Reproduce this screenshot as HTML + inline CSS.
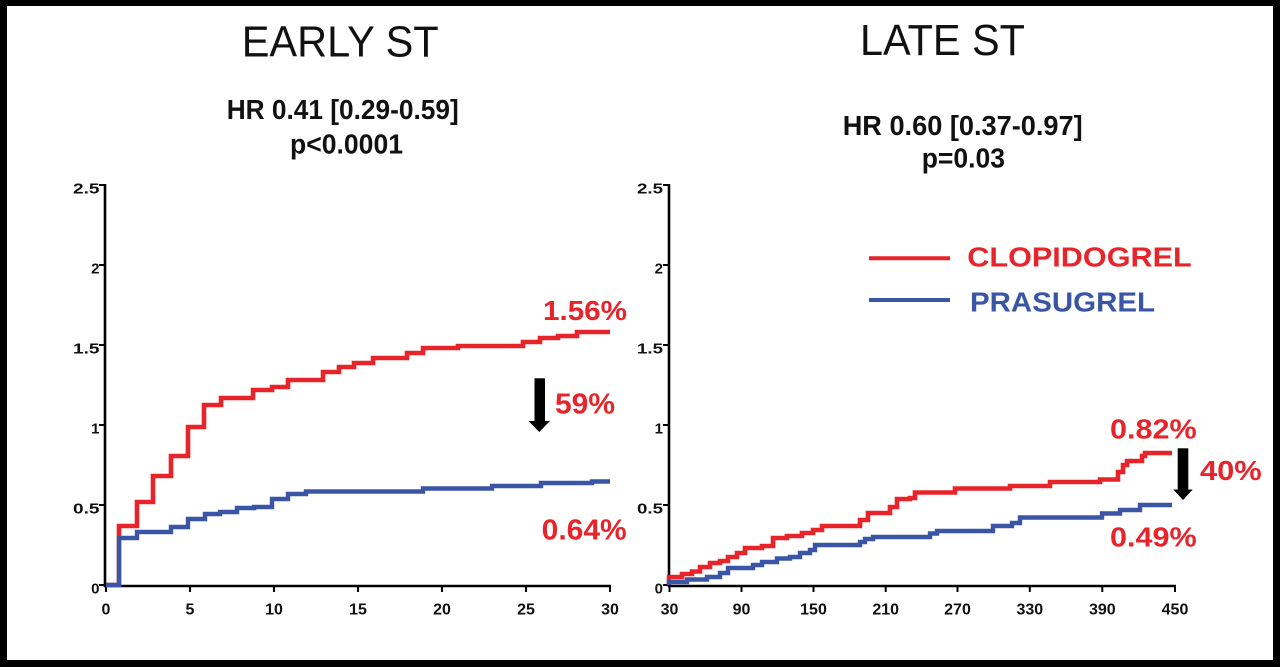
<!DOCTYPE html>
<html>
<head>
<meta charset="utf-8">
<style>
  html, body { margin: 0; padding: 0; background: #000; }
  body { width: 1280px; height: 667px; overflow: hidden; }
  svg { display: block; }
  text { font-family: "Liberation Sans", Arial, sans-serif; }
</style>
</head>
<body>
<svg width="1280" height="667" viewBox="0 0 1280 667" xmlns="http://www.w3.org/2000/svg">
  <rect x="0" y="0" width="1280" height="667" fill="#000"/>
  <rect x="7" y="6" width="1266" height="654" fill="#fff"/>

  <!-- Titles -->
  <text x="241.7" y="56.7" font-size="44" fill="#111" textLength="197" lengthAdjust="spacingAndGlyphs">EARLY ST</text>
  <text x="860" y="55" font-size="44" fill="#111" textLength="165" lengthAdjust="spacingAndGlyphs">LATE ST</text>

  <text x="226.7" y="119" font-size="28" font-weight="bold" fill="#111" textLength="232" lengthAdjust="spacingAndGlyphs">HR 0.41 [0.29-0.59]</text>
  <text x="290" y="153.5" font-size="28" font-weight="bold" fill="#111" textLength="113" lengthAdjust="spacingAndGlyphs">p&lt;0.0001</text>

  <text x="842.7" y="135" font-size="28" font-weight="bold" fill="#111" textLength="240" lengthAdjust="spacingAndGlyphs">HR 0.60 [0.37-0.97]</text>
  <text x="921.7" y="167.7" font-size="28" font-weight="bold" fill="#111" textLength="83.3" lengthAdjust="spacingAndGlyphs">p=0.03</text>

  <!-- LEFT CHART axes -->
  <g stroke="#000" fill="none">
    <line x1="105" y1="184" x2="105" y2="587" stroke-width="2.6"/>
    <line x1="104" y1="586" x2="611" y2="586" stroke-width="2.6"/>
    <g stroke-width="2">
      <line x1="99" y1="185" x2="105" y2="185"/>
      <line x1="99" y1="265" x2="105" y2="265"/>
      <line x1="99" y1="345" x2="105" y2="345"/>
      <line x1="99" y1="425" x2="105" y2="425"/>
      <line x1="99" y1="505" x2="105" y2="505"/>
      <line x1="99" y1="585" x2="105" y2="585"/>
      <line x1="106" y1="586" x2="106" y2="592"/>
      <line x1="190" y1="586" x2="190" y2="592"/>
      <line x1="274" y1="586" x2="274" y2="592"/>
      <line x1="358" y1="586" x2="358" y2="592"/>
      <line x1="442" y1="586" x2="442" y2="592"/>
      <line x1="526" y1="586" x2="526" y2="592"/>
      <line x1="610" y1="586" x2="610" y2="592"/>
    </g>
  </g>
  <g font-size="15" font-weight="bold" fill="#111" text-anchor="end">
    <text x="99.5" y="193.5" textLength="26.5" lengthAdjust="spacingAndGlyphs">2.5</text>
    <text x="99.5" y="273.5">2</text>
    <text x="99.5" y="353.5" textLength="26.5" lengthAdjust="spacingAndGlyphs">1.5</text>
    <text x="99.5" y="433.5">1</text>
    <text x="99.5" y="513.5" textLength="26.5" lengthAdjust="spacingAndGlyphs">0.5</text>
    <text x="99.5" y="593.5">0</text>
  </g>
  <g font-size="16" font-weight="bold" fill="#111" text-anchor="middle">
    <text x="106" y="614.3">0</text>
    <text x="190" y="614.3">5</text>
    <text x="274" y="614.3">10</text>
    <text x="358" y="614.3">15</text>
    <text x="442" y="614.3">20</text>
    <text x="526" y="614.3">25</text>
    <text x="610" y="614.3">30</text>
  </g>

  <!-- LEFT CHART curves -->
  <path d="M106,585 H119 V526 H137 V502 H153 V476 H171 V456 H188 V427 H204 V405 H221 V398 H253 V390 H272 V387 H288 V380 H323 V372 H339 V367 H354 V363 H373 V358 H407 V353 H423 V348 H458 V346 H523 V342 H540 V338 H558 V336 H577 V332 H610"
        fill="none" stroke="#e8242b" stroke-width="4.6" stroke-linejoin="miter"/>
  <path d="M106,585 H119 V538 H137 V532 H171 V527 H188 V519 H205 V514 H220 V512 H237 V508 H254 V507 H272 V499 H288 V494 H306 V491.5 H423 V488.5 H492 V486 H541 V483 H592 V481.5 H610"
        fill="none" stroke="#3a55a6" stroke-width="4.4" stroke-linejoin="miter"/>

  <!-- LEFT annotations -->
  <text x="543" y="320" font-size="28" font-weight="bold" fill="#e8242b" textLength="84" lengthAdjust="spacingAndGlyphs">1.56%</text>
  <text x="555" y="413.3" font-size="29" font-weight="bold" fill="#e8242b" textLength="60" lengthAdjust="spacingAndGlyphs">59%</text>
  <text x="541.7" y="539.3" font-size="29" font-weight="bold" fill="#e8242b" textLength="85" lengthAdjust="spacingAndGlyphs">0.64%</text>
  <rect x="534.5" y="378.3" width="10.5" height="45" fill="#000"/>
  <polygon points="528.5,421 550,421 539.3,432" fill="#000"/>

  <!-- RIGHT CHART axes -->
  <g stroke="#000" fill="none">
    <line x1="669" y1="184" x2="669" y2="587" stroke-width="2.6"/>
    <line x1="668" y1="586" x2="1176" y2="586" stroke-width="2.6"/>
    <g stroke-width="2">
      <line x1="663" y1="185" x2="669" y2="185"/>
      <line x1="663" y1="265" x2="669" y2="265"/>
      <line x1="663" y1="345" x2="669" y2="345"/>
      <line x1="663" y1="425" x2="669" y2="425"/>
      <line x1="663" y1="505" x2="669" y2="505"/>
      <line x1="663" y1="585" x2="669" y2="585"/>
      <line x1="669.5" y1="586" x2="669.5" y2="592"/>
      <line x1="741.5" y1="586" x2="741.5" y2="592"/>
      <line x1="813.5" y1="586" x2="813.5" y2="592"/>
      <line x1="885.7" y1="586" x2="885.7" y2="592"/>
      <line x1="957.5" y1="586" x2="957.5" y2="592"/>
      <line x1="1029.8" y1="586" x2="1029.8" y2="592"/>
      <line x1="1102.3" y1="586" x2="1102.3" y2="592"/>
      <line x1="1175" y1="586" x2="1175" y2="592"/>
    </g>
  </g>
  <g font-size="15" font-weight="bold" fill="#111" text-anchor="end">
    <text x="663" y="193.5" textLength="26" lengthAdjust="spacingAndGlyphs">2.5</text>
    <text x="663" y="273.5">2</text>
    <text x="663" y="353.5" textLength="26" lengthAdjust="spacingAndGlyphs">1.5</text>
    <text x="663" y="433.5">1</text>
    <text x="663" y="513.5" textLength="26" lengthAdjust="spacingAndGlyphs">0.5</text>
    <text x="663" y="593.5">0</text>
  </g>
  <g font-size="16" font-weight="bold" fill="#111" text-anchor="middle">
    <text x="669.5" y="614.3">30</text>
    <text x="741.5" y="614.3">90</text>
    <text x="813.5" y="614.3">150</text>
    <text x="885.7" y="614.3">210</text>
    <text x="957.5" y="614.3">270</text>
    <text x="1029.8" y="614.3">330</text>
    <text x="1102.3" y="614.3">390</text>
    <text x="1175" y="614.3">450</text>
  </g>

  <!-- RIGHT CHART curves -->
  <path d="M669,585 V577 H682 V574 H692 V571.5 H700 V567 H710 V563 H720 V561 H728 V557 H737 V553 H745 V548 H762 V546 H773 V538 H787 V536 H802 V533 H813 V530 H822 V526 H860 V520 H868 V513 H890 V507 H897 V499 H910 V498 H915 V492.5 H955 V488.5 H1010 V486 H1050 V482 H1100 V479.5 H1118 V472 H1123 V465 H1127 V461 H1142 V456 H1145 V453 H1172"
        fill="none" stroke="#e8242b" stroke-width="4.6" stroke-linejoin="miter"/>
  <path d="M669,585 V582 H687 V579.5 H707 V577 H720 V573 H728 V568 H753 V565 H762 V562 H777 V558.5 H790 V557 H800 V553 H810 V550 H815 V545 H860 V542 H865 V539 H873 V537 H930 V533.5 H937 V531 H993 V526 H1012 V523 H1020 V517.5 H1102 V513.5 H1120 V510 H1140 V505 H1172"
        fill="none" stroke="#3a55a6" stroke-width="4.4" stroke-linejoin="miter"/>

  <!-- RIGHT annotations -->
  <text x="1110" y="438.3" font-size="28" font-weight="bold" fill="#e8242b" textLength="86.7" lengthAdjust="spacingAndGlyphs">0.82%</text>
  <text x="1200" y="480" font-size="28" font-weight="bold" fill="#e8242b" textLength="61.7" lengthAdjust="spacingAndGlyphs">40%</text>
  <text x="1110" y="546.7" font-size="28" font-weight="bold" fill="#e8242b" textLength="86.7" lengthAdjust="spacingAndGlyphs">0.49%</text>
  <rect x="1177.7" y="448.3" width="10.6" height="43" fill="#000"/>
  <polygon points="1173.3,489.5 1192.7,489.5 1183,500" fill="#000"/>

  <!-- Legend -->
  <line x1="869" y1="258.3" x2="950" y2="258.3" stroke="#e8242b" stroke-width="4"/>
  <text x="967.3" y="266.7" font-size="28" font-weight="bold" fill="#e8242b" textLength="224.4" lengthAdjust="spacingAndGlyphs">CLOPIDOGREL</text>
  <line x1="869" y1="300" x2="950" y2="300" stroke="#3a55a6" stroke-width="4"/>
  <text x="970" y="311.7" font-size="28" font-weight="bold" fill="#3a55a6" textLength="185" lengthAdjust="spacingAndGlyphs">PRASUGREL</text>
</svg>
</body>
</html>
